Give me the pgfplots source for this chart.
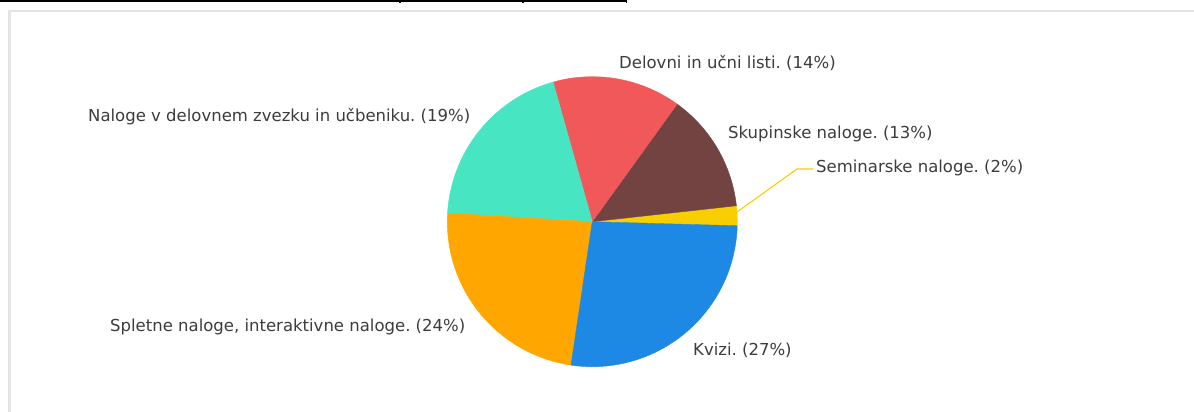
\documentclass[border=0pt]{standalone}
\usepackage{pgfplots}
\pgfplotsset{compat=1.18}
\usepackage{fontspec}
\setmainfont{DejaVu Sans}
\frenchspacing
\definecolor{cBlue}{RGB}{30,136,229}
\definecolor{cOrange}{RGB}{255,166,0}
\definecolor{cTeal}{RGB}{71,229,194}
\definecolor{cRed}{RGB}{241,88,90}
\definecolor{cBrown}{RGB}{115,67,66}
\definecolor{cYellow}{RGB}{249,206,0}
\definecolor{cText}{RGB}{60,60,60}
\definecolor{cFrame}{RGB}{228,228,228}
% one pie slice: start angle (deg), share (%), colour
\newcommand{\slice}[3]{%
  \addplot[draw=#3, fill=#3, line width=0.4bp, domain={#1}:{#1+3.6*#2}, samples=90, variable=\t]
    ({592.3+145*cos(t)}, {221.7-145*sin(t)}) -- (axis cs:592.3,221.7) -- cycle;
}
\newcommand{\lbl}{\fontsize{16.5bp}{20bp}\selectfont\color{cText}\frenchspacing}
\begin{document}
\begin{tikzpicture}
\useasboundingbox (0,0) rectangle (1194bp,412bp);
\begin{axis}[at={(0,0)}, anchor=south west, scale only axis,
  width=1194bp, height=412bp,
  xmin=0, xmax=1194, ymin=0, ymax=412, y dir=reverse,
  hide axis, clip=false]
% frame
\draw[cFrame, line width=2.2bp] (axis cs:9.5,420) -- (axis cs:9.5,11) -- (axis cs:1200,11);
\draw[black, line width=2bp] (axis cs:0,1.3) -- (axis cs:627,1.3);
\draw[black, line width=1.6bp] (axis cs:400,0) -- (axis cs:400,3);
\draw[black, line width=1.6bp] (axis cs:523,0) -- (axis cs:523,3);
\draw[black, line width=1.6bp] (axis cs:626.5,0) -- (axis cs:626.5,3);
% slices (counter-clockwise from -1.6 deg)
\slice{-1.6}{2.2}{cYellow}
\slice{6.32}{13.3}{cBrown}
\slice{54.2}{14.3}{cRed}
\slice{105.68}{19.7}{cTeal}
\slice{176.6}{23.6}{cOrange}
\slice{261.56}{26.9}{cBlue}
% leader line
\draw[cYellow, line width=1.1bp] (axis cs:737,212) -- (axis cs:797,169) -- (axis cs:813,169);
% labels
\node[anchor=west, inner sep=0pt, font=\lbl] at (axis cs:619,63) {Delovni in učni listi. (14\%)};
\node[anchor=west, inner sep=0pt, font=\lbl] at (axis cs:728,134) {Skupinske naloge. (13\%)};
\node[anchor=west, inner sep=0pt, font=\lbl] at (axis cs:816,168) {Seminarske naloge. (2\%)};
\node[anchor=west, inner sep=0pt, font=\lbl] at (axis cs:88,117) {Naloge v delovnem zvezku in učbeniku. (19\%)};
\node[anchor=west, inner sep=0pt, font=\lbl] at (axis cs:110,327) {Spletne naloge, interaktivne naloge. (24\%)};
\node[anchor=west, inner sep=0pt, font=\lbl] at (axis cs:693,350) {Kvizi. (27\%)};
\end{axis}
\end{tikzpicture}
\end{document}
